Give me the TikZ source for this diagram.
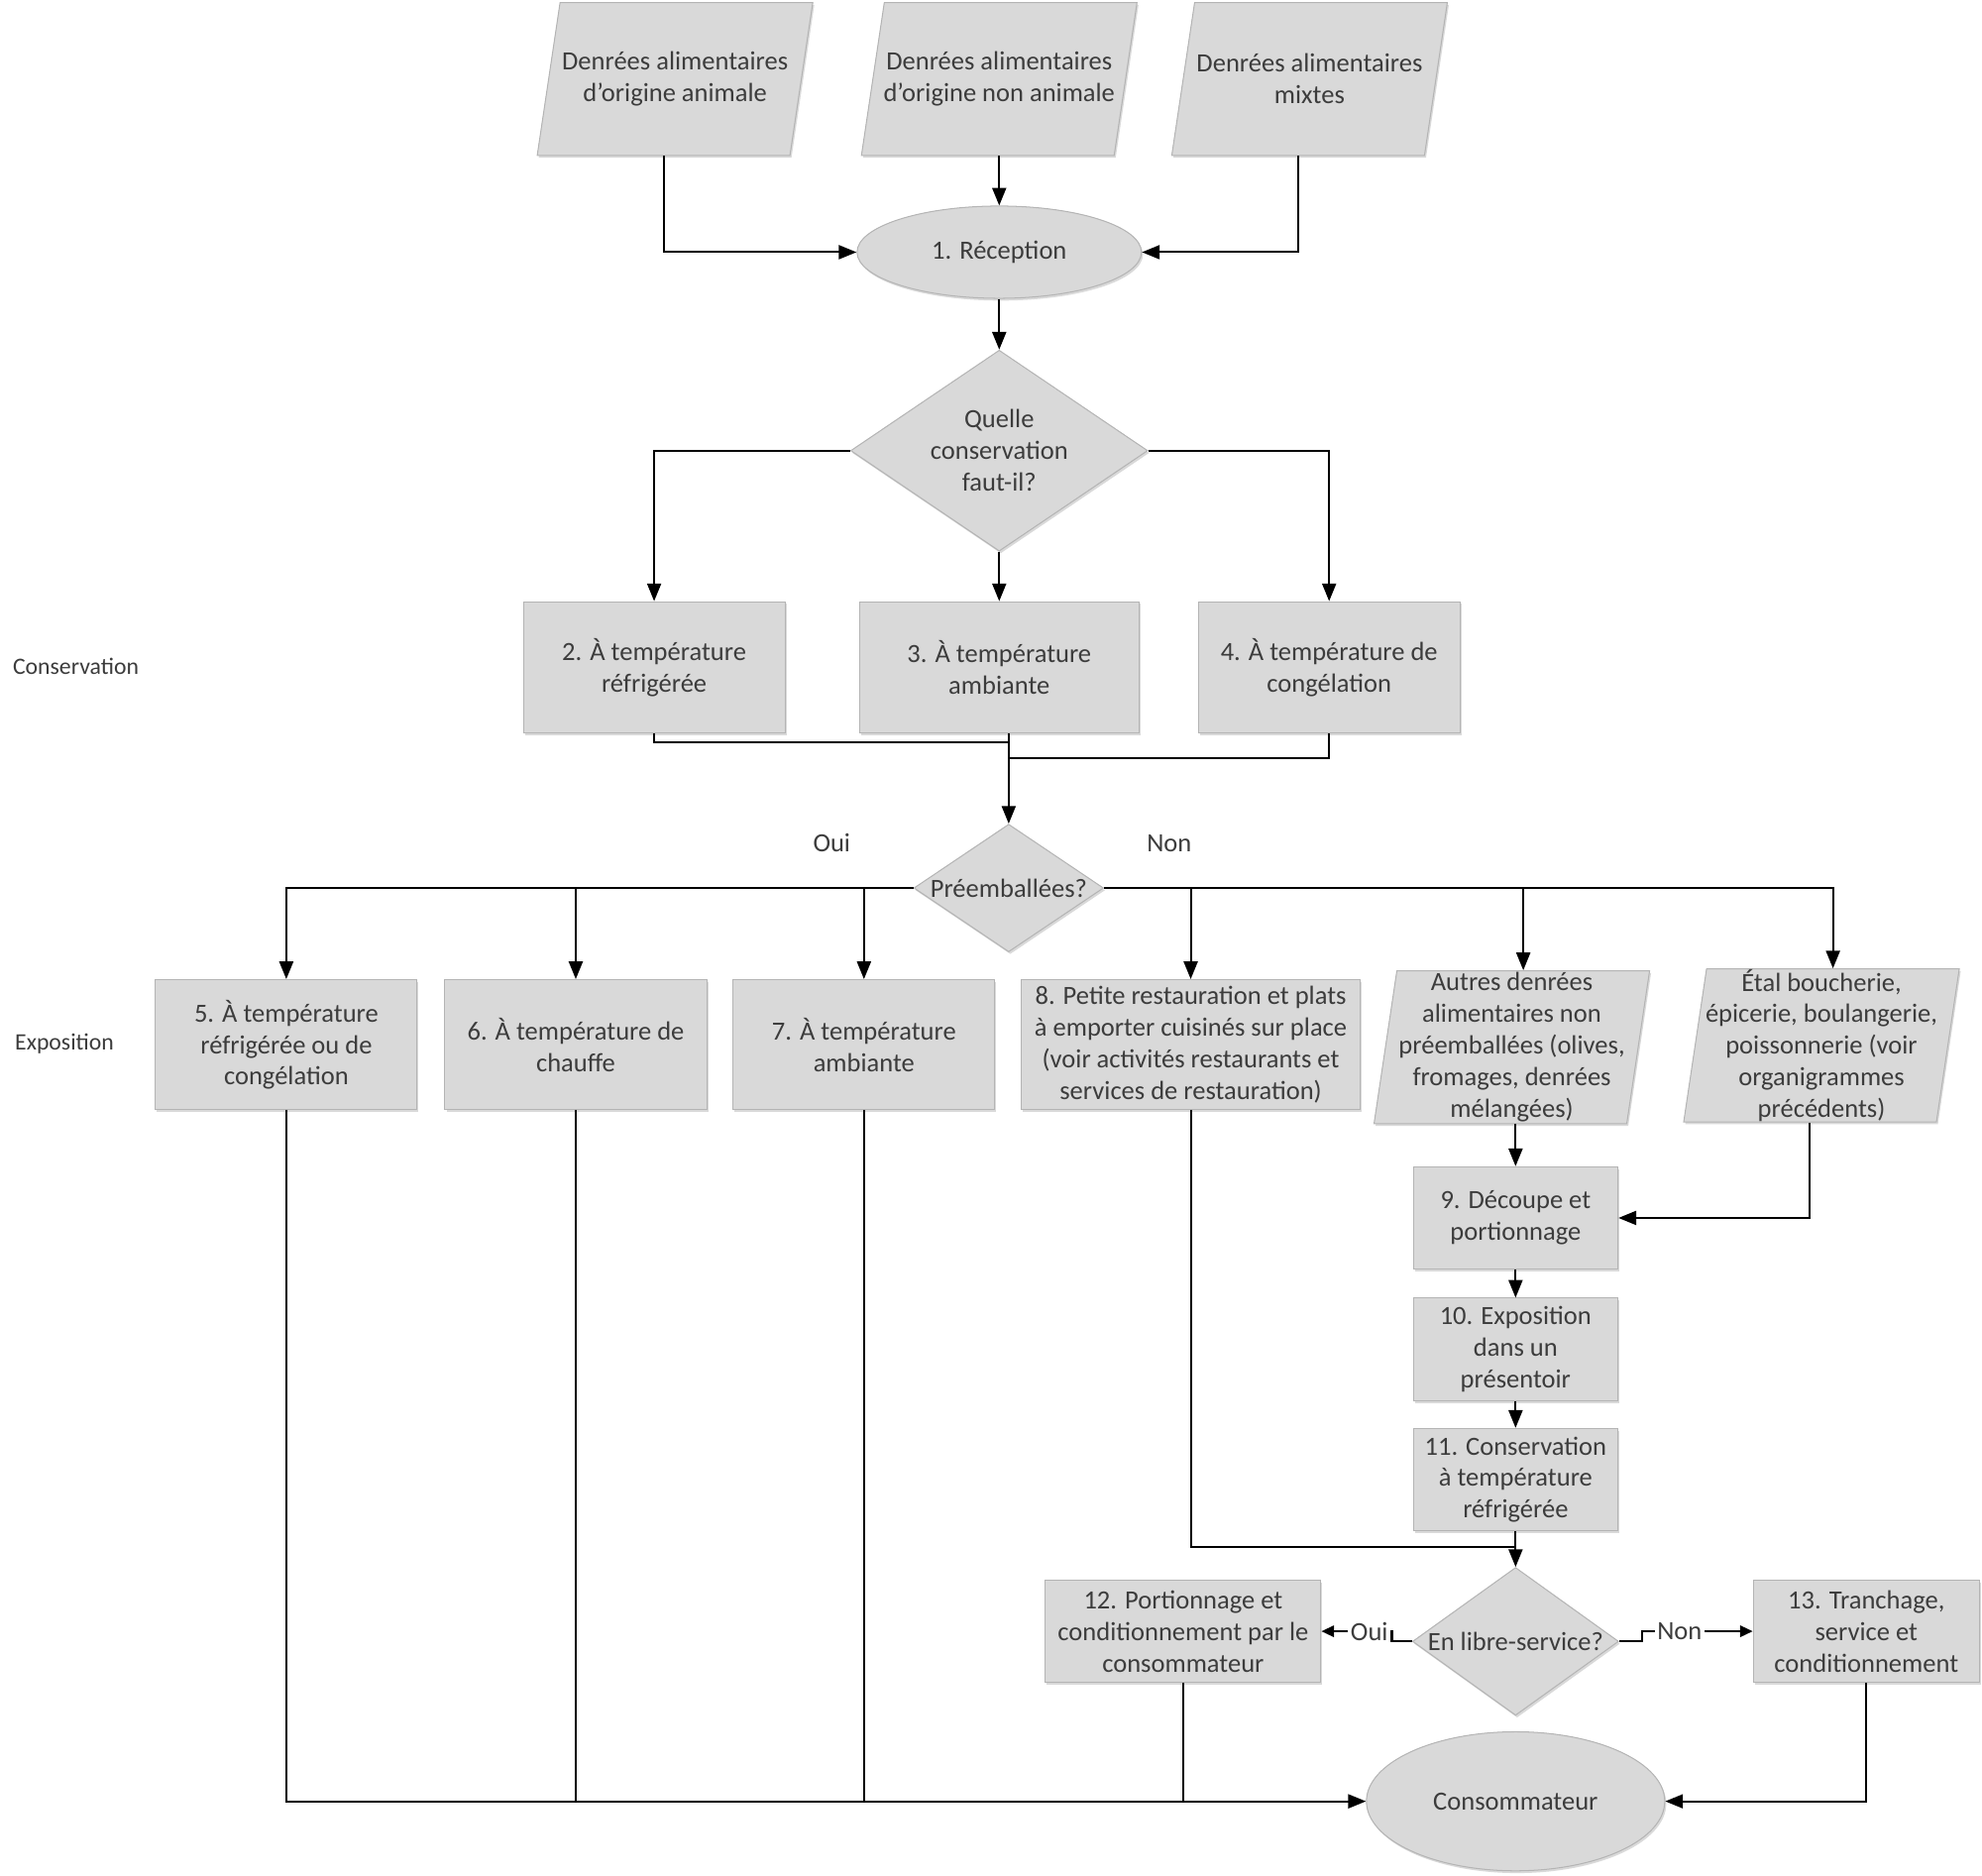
\documentclass[tikz,border=0pt]{standalone}
\usepackage{fontspec}
\setmainfont{Carlito}
\usepackage{tikz}
\usetikzlibrary{calc, shapes, shadows, arrows.meta}
\definecolor{boxfill}{RGB}{217,217,217}
\definecolor{boxline}{RGB}{180,180,180}
\definecolor{boxtext}{RGB}{60,60,60}

\begin{document}
\begin{tikzpicture}[->, >={Triangle[length=7pt,width=5.5pt]}, line width=0.8pt, x=0.5pt, y=-0.5pt,
    font=\fontsize{10.4pt}{12.5pt}\selectfont, text=boxtext]
\tikzstyle{soft}=[drop shadow={shadow xshift=0.6pt,shadow yshift=-0.9pt,opacity=0.25,fill=black!60}]
\tikzstyle{proc}=[soft, rectangle, draw=boxline, fill=boxfill, thin, align=center, inner sep=1pt]
\tikzstyle{data}=[soft, trapezium, trapezium left angle=81.5, trapezium right angle=98.5, trapezium stretches body=true,
    draw=boxline, fill=boxfill, thin, inner xsep=0pt, inner ysep=30.25pt, minimum width=109pt]
\tikzstyle{term}=[soft, ellipse, draw=boxline, fill=boxfill, thin, inner sep=1pt]
\tikzstyle{ask}=[soft, diamond, draw=boxline, fill=boxfill, thin, inner sep=0pt]
\tikzstyle{lab}=[fill=white, inner sep=1pt]
\tikzstyle{hv}=[to path={-| (\tikztotarget) \tikztonodes}]
\tikzstyle{vh}=[to path={|- (\tikztotarget) \tikztonodes}]
\useasboundingbox (0,0) rectangle (1568,1484);

% side titles
\node (cons) at (60,527) {\fontsize{9.3pt}{11pt}\selectfont Conservation};
\node (expo) at (51,826) {\fontsize{9.3pt}{11pt}\selectfont Exposition};

\node[data, label={[align=center]center:Denrées alimentaires\\d’origine animale}]     (S1) at (534,62.5)   {};
\node[data, label={[align=center]center:Denrées alimentaires\\d’origine non animale}] (S2) at (790.5,62.5) {};
\node[data, label={[align=center]center:Denrées alimentaires\\mixtes}]                (S3) at (1036,62.5)  {};
\node[term, minimum width=112.5pt, minimum height=36.5pt] (R) at (790.5,199.5) {1. Réception};
\node[ask, minimum width=117.5pt, minimum height=79.5pt,
    label={[align=center]center:Quelle\\conservation\\faut-il?}] (Q) at (790.5,356.5) {};

\node[proc, minimum width=103.5pt, minimum height=52pt] (C2) at (517.5,528)  {2. À température\\réfrigérée};
\node[proc, minimum width=110.5pt, minimum height=52pt] (C3) at (790.5,528)  {3. À température\\ambiante};
\node[proc, minimum width=103.5pt, minimum height=52pt] (C4) at (1051.5,528) {4. À température de\\congélation};

\node[ask, minimum width=75pt, minimum height=50.5pt, label=center:Préemballées?] (P) at (798,702.5) {};
\node (oui) at (658,667) {Oui};
\node (non) at (925,667) {Non};

\node[proc, minimum width=103.5pt, minimum height=51.5pt] (E5) at (226.5,826.5) {5. À température\\réfrigérée ou de\\congélation};
\node[proc, minimum width=103.5pt, minimum height=51.5pt] (E6) at (455.5,826.5) {6. À température de\\chauffe};
\node[proc, minimum width=103.5pt, minimum height=51.5pt] (E7) at (683.5,826.5) {7. À température\\ambiante};
\node[proc, minimum width=134pt, minimum height=51.5pt]   (E8) at (942,826.5)   {8. Petite restauration et plats\\à emporter cuisinés sur place\\(voir activités restaurants et\\services de restauration)};
\node[data, label={[align=center]center:Autres denrées\\alimentaires non\\préemballées (olives,\\fromages, denrées\\mélangées)}] (A) at (1196,828.5) {};
\node[data, label={[align=center]center:Étal boucherie,\\épicerie, boulangerie,\\poissonnerie (voir\\organigrammes\\précédents)}] (B) at (1441,827) {};

\node[proc, minimum width=81pt, minimum height=40.5pt] (N9) at (1199,963.5) {9. Découpe et\\portionnage};
\node[proc, minimum width=81pt, minimum height=40.5pt, below of=N9, node distance=52pt]    (N10) {10. Exposition\\dans un\\présentoir};
\node[proc, minimum width=81pt, minimum height=40.5pt, below of=N10, node distance=51.5pt] (N11) {11. Conservation\\à température\\réfrigérée};
\node[ask, minimum width=81.5pt, minimum height=58.5pt, label=center:En libre-service?] (L) at (1199,1298.5) {};
\node[proc, minimum width=109pt, minimum height=40.5pt]  (N12) at (936,1290.5)    {12. Portionnage et\\conditionnement par le\\consommateur};
\node[proc, minimum width=89.5pt, minimum height=40.5pt] (N13) at (1476.5,1290.5) {13. Tranchage,\\service et\\conditionnement};
\node[term, minimum width=118pt, minimum height=55pt] (K) at (1199,1425) {Consommateur};

\coordinate (M1) at (798,587);
\coordinate (M2) at (798,600);
\coordinate (M3) at (1199,1224);

\path
(S1.bottom side)        edge[vh]    (R.west)
(S2)                    edge        (R)
(S3.bottom side)        edge[vh]    (R.east)
(R)                     edge        (Q)
(Q.west)                edge[hv]    (C2.north)
(Q)                     edge        (C3)
(Q.east)                edge[hv]    (C4.north)

(C2.south)              edge[vh,-]  (M1)
(C4.south)              edge[vh,-]  (M2)
(C3.south -| P.north)   edge        (P.north)

(P.west)                edge[hv]    (E5.north)
(P.west)                edge[hv]    (E6.north)
(P.west)                edge[hv]    (E7.north)
(P.east)                edge[hv]    (E8.north)
(P.east)                edge[hv]    (A.top side)
(P.east)                edge[hv]    (B.top side)

(N9.north |- A.bottom side) edge    (N9)
(B.bottom side)         edge[vh]    (N9.east)
(N9)                    edge        (N10)
(N10)                   edge        (N11)
(N11)                   edge        (L)
(E8.south)              edge[vh,-]  (M3)

(E5.south)              edge[vh]    (K.west)
(E6.south)              edge[-]     (E6.south |- K.west)
(E7.south)              edge[-]     (E7.south |- K.west)
(N12.south)             edge[-]     (N12.south |- K.west)
(N13.south)             edge[vh]    (K.east);

\draw[>={Triangle[length=5pt,width=4.5pt]}] (L.west) -- ++(-16,0) |- node[pos=0.66, lab]{Oui} (N12.east);
\draw[>={Triangle[length=5pt,width=4.5pt]}] (L.east) -- ++(18,0) |- node[pos=0.67, lab]{Non} (N13.west);

\end{tikzpicture}
\end{document}
